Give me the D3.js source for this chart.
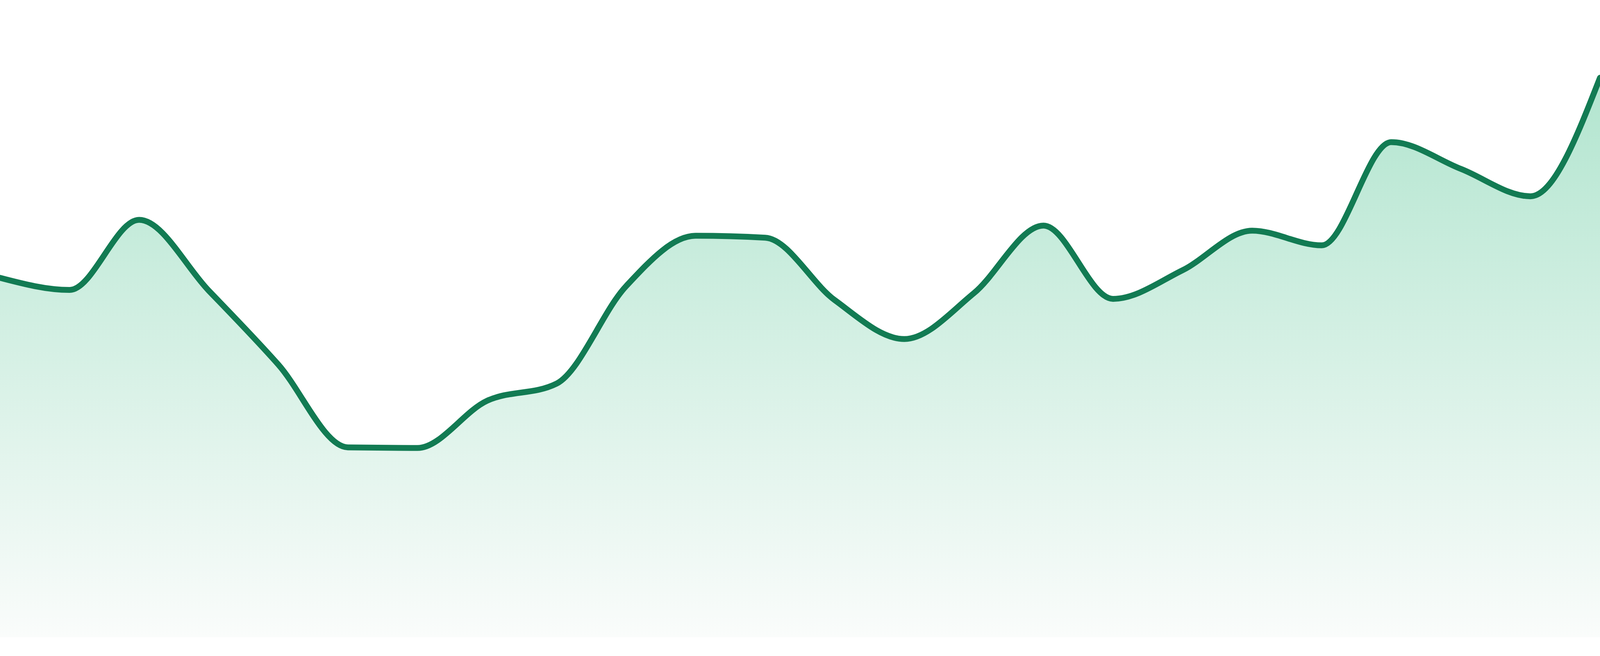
<!DOCTYPE html>
<html>
<head>
<meta charset="utf-8">
<script src="https://cdn.jsdelivr.net/npm/d3@7"></script>
<style>
  html, body { margin: 0; padding: 0; background: #fff; overflow: hidden; }
  svg { display: block; }
</style>
</head>
<body>
<svg id="chart"></svg>
<script>
const hours = [
  "00:00", "01:00", "02:00", "03:00", "04:00", "05:00", "06:00", "07:00",
  "08:00", "09:00", "10:00", "11:00", "12:00", "13:00", "14:00", "15:00",
  "16:00", "17:00", "18:00", "19:00", "20:00", "21:00", "22:00", "23:00"
];
const values = [
  56.4, 54.5, 65.5, 54.4, 42.8, 29.8, 29.7, 37.1,
  39.8, 55.1, 63.0, 62.7, 52.9, 46.8, 54.0, 64.6,
  53.1, 57.6, 63.8, 61.5, 77.7, 73.5, 69.2, 87.8
];
const yDomain = [0, 100];

// the window may come out narrower than 4800, so fill whatever we get
const width = window.innerWidth || 4800;
const height = window.innerHeight || 1680;
const baseline = height * 1632 / 1680;

const svg = d3.select("#chart")
  .attr("width", width)
  .attr("height", height);

const x = d3.scalePoint()
  .domain(hours)
  .range([0, width]);

const y = d3.scaleLinear()
  .domain(yDomain)
  .range([baseline, 0]);

const data = hours.map((h, i) => ({ hour: h, value: values[i] }));

// fill fades from light green to almost white
const grad = svg.append("defs")
  .append("linearGradient")
  .attr("id", "fade")
  .attr("x1", 0).attr("y1", 0)
  .attr("x2", 0).attr("y2", 1);
grad.append("stop").attr("offset", "0%").attr("stop-color", "#b2e5cf");
grad.append("stop").attr("offset", "100%").attr("stop-color", "#fafcfb");

const area = d3.area()
  .curve(d3.curveMonotoneX)
  .x(d => x(d.hour))
  .y0(baseline)
  .y1(d => y(d.value));

const line = d3.line()
  .curve(d3.curveMonotoneX)
  .x(d => x(d.hour))
  .y(d => y(d.value));

svg.append("path")
  .datum(data)
  .attr("d", area)
  .attr("fill", "url(#fade)");

svg.append("path")
  .datum(data)
  .attr("d", line)
  .attr("fill", "none")
  .attr("stroke", "#127b53")
  .attr("stroke-width", 15 * height / 1680)
  .attr("stroke-linejoin", "round")
  .attr("stroke-linecap", "round");
</script>
</body>
</html>
